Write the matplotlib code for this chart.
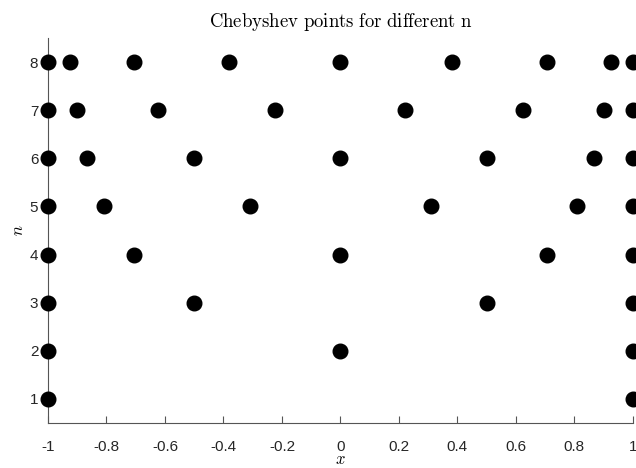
import matplotlib.pyplot as plt

plt.rcParams['mathtext.fontset'] = 'cm'
plt.rcParams['font.family'] = ['Liberation Sans', 'DejaVu Sans']

# Chebyshev nodes for each n (n+1 points per row)
n_values = [1, 2, 3, 4, 5, 6, 7, 8]
nodes = [
    [1.0, -1.0],
    [1.0, 0.0, -1.0],
    [1.0, 0.5, -0.5, -1.0],
    [1.0, 0.7071, 0.0, -0.7071, -1.0],
    [1.0, 0.809, 0.309, -0.309, -0.809, -1.0],
    [1.0, 0.866, 0.5, 0.0, -0.5, -0.866, -1.0],
    [1.0, 0.901, 0.6235, 0.2225, -0.2225, -0.6235, -0.901, -1.0],
    [1.0, 0.9239, 0.7071, 0.3827, 0.0, -0.3827, -0.7071, -0.9239, -1.0],
]
xticks = [-1, -0.8, -0.6, -0.4, -0.2, 0, 0.2, 0.4, 0.6, 0.8, 1]
xticklabels = ['-1', '-0.8', '-0.6', '-0.4', '-0.2', '0', '0.2', '0.4', '0.6', '0.8', '1']

fig = plt.figure(figsize=(6.36, 4.68), dpi=100)
ax = fig.add_axes([0.0755, 0.0962, 0.9195, 0.8226])

for n, xs in zip(n_values, nodes):
    ax.plot(xs, [n] * len(xs), 'o', color='black', markersize=10.5, clip_on=False, zorder=3)

ax.set_xlim(-1, 1)
ax.set_ylim(0.5, 8.5)
ax.set_xticks(xticks)
ax.set_xticklabels(xticklabels)
ax.set_yticks(n_values)

axcol = '#262626'
for s in ['top', 'right']:
    ax.spines[s].set_visible(False)
for s in ['left', 'bottom']:
    ax.spines[s].set_color('#555555')
    ax.spines[s].set_linewidth(0.8)
ax.tick_params(direction='in', length=5, width=0.8, color='#555555',
               labelsize=11, labelcolor=axcol)
ax.tick_params(axis='x', pad=12)
ax.tick_params(axis='y', pad=7)

ax.set_title(r'$\mathrm{Chebyshev\ points\ for\ different\ n}$', fontsize=13.5, color='black', pad=8)
ax.set_xlabel(r'$x$', fontsize=12, labelpad=-1)
ax.set_ylabel(r'$n$', fontsize=12, labelpad=3)

fig.savefig('out.png', dpi=100)
